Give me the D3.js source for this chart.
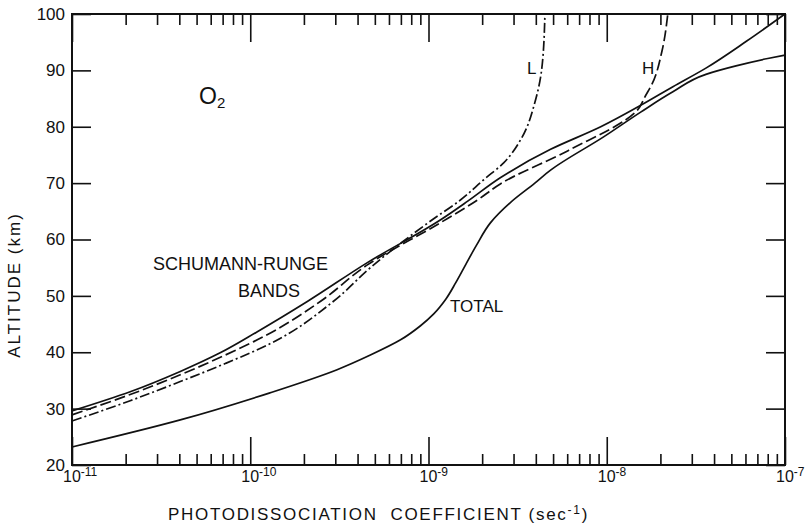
<!DOCTYPE html>
<html>
<head>
<meta charset="utf-8">
<script src="https://cdn.jsdelivr.net/npm/d3@7"></script>
<style>
    body { margin: 0; background: #fff; }
    svg text { font-family: "Liberation Sans", Arial, sans-serif; fill: #111; }
</style>
</head>
<body>
<div id="chart"></div>
<script>
// tick values
const decades = [1e-11, 1e-10, 1e-9, 1e-8, 1e-7];
const decadeExp = ["-11", "-10", "-9", "-8", "-7"];
const minorMult = [2, 3, 4, 5, 6, 7, 8, 9];
const altTicks = [20, 30, 40, 50, 60, 70, 80, 90, 100];

// Schumann-Runge bands (solid)
const srJ   = [1e-11, 2.12e-11, 4.05e-11, 6.78e-11, 1.09e-10, 2.09e-10, 4.54e-10, 1.17e-9, 1.66e-9, 2.54e-9, 4.84e-9, 9.25e-9, 1.55e-8, 2.35e-8, 3.6e-8, 6.1e-8, 1e-7];
const srAlt = [29.6, 33.0, 36.6, 39.9, 43.6, 49.0, 55.9, 63.5, 66.8, 71.0, 76.0, 80.0, 83.8, 87.1, 90.4, 95.2, 100];

// H (dashed)
const hJ   = [1e-11, 2.12e-11, 4.05e-11, 7.24e-11, 1.21e-10, 2.47e-10, 4.54e-10, 1.17e-9, 1.88e-9, 2.54e-9, 6.1e-9, 1.49e-8, 1.65e-8, 1.79e-8, 2.04e-8, 2.2e-8];
const hAlt = [28.9, 32.5, 36.0, 39.5, 42.9, 49.0, 55.5, 63.0, 67.0, 69.9, 75.8, 83.0, 85.5, 87.5, 93.4, 100];

// L (dash-dot)
const lJ   = [1e-11, 2.12e-11, 4.05e-11, 7.24e-11, 1.29e-10, 2.92e-10, 4.72e-10, 1.05e-9, 1.51e-9, 2.04e-9, 2.64e-9, 3.33e-9, 3.95e-9, 4.32e-9, 4.5e-9];
const lAlt = [27.8, 31.4, 34.8, 38.0, 41.5, 49.0, 55.0, 63.5, 67.0, 70.6, 73.6, 78.0, 84.3, 90.3, 100];

// total (solid)
const totJ   = [1e-11, 4.05e-11, 1.29e-10, 3.07e-10, 4.72e-10, 6.97e-10, 9.02e-10, 1.07e-9, 1.25e-9, 1.42e-9, 1.62e-9, 1.86e-9, 2.23e-9, 2.89e-9, 3.95e-9, 4.84e-9, 9.6e-9, 1.55e-8, 2.35e-8, 3.6e-8, 5.31e-8, 8.0e-8, 1e-7];
const totAlt = [23.2, 28.0, 32.8, 36.9, 39.5, 42.2, 44.7, 46.8, 49.4, 52.3, 55.6, 59.0, 63.0, 66.6, 70.0, 72.3, 78.2, 82.6, 86.2, 89.3, 90.8, 92.1, 92.7];

const W = 811, H = 524;
const margin = {top: 14, right: 26, bottom: 59, left: 72};
const width = W - margin.left - margin.right;
const height = H - margin.top - margin.bottom;

const svg = d3.select("#chart").append("svg")
    .attr("width", W)
    .attr("height", H);

const g = svg.append("g")
    .attr("transform", "translate(" + margin.left + "," + margin.top + ")");

// scales
const x = d3.scaleLog().domain([1e-11, 1e-7]).range([0, width]);
const y = d3.scaleLinear().domain([20, 100]).range([height, 0]);

const minorTicks = decades.slice(0, -1).flatMap(d => minorMult.map(m => m * d));

// draws an axis and styles its tick lines (ticks point inward)
function drawAxis(axis, tx, ty) {
    const a = g.append("g")
        .attr("transform", "translate(" + tx + "," + ty + ")")
        .call(axis);
    a.select(".domain").remove();
    a.selectAll(".tick line")
        .attr("stroke", "#111")
        .attr("stroke-width", 1.6);
    a.attr("font-size", null).attr("font-family", null);
    return a;
}

// bottom / top axes
drawAxis(d3.axisBottom(x).tickValues(decades).tickSize(-28).tickFormat(""), 0, height);
drawAxis(d3.axisBottom(x).tickValues(minorTicks).tickSize(-11).tickFormat(""), 0, height);
drawAxis(d3.axisTop(x).tickValues(decades).tickSize(-28).tickFormat(""), 0, 0);
drawAxis(d3.axisTop(x).tickValues(minorTicks).tickSize(-11).tickFormat(""), 0, 0);

// left / right axes
const gLeft = drawAxis(d3.axisLeft(y).tickValues(altTicks).tickSize(-19).tickPadding(7), 0, 0);
gLeft.selectAll(".tick text").style("font-size", "17px");
drawAxis(d3.axisRight(y).tickValues(altTicks).tickSize(-19).tickFormat(""), width, 0);

// x tick labels: 10 with superscript exponent
const xl = g.append("g").selectAll("text")
    .data(decades)
    .join("text")
    .attr("x", d => x(d) - 9)
    .attr("y", height + 17)
    .style("font-size", "16px");
xl.append("tspan").text("10");
xl.append("tspan")
    .attr("dy", -6)
    .style("font-size", "12px")
    .text((d, i) => decadeExp[i]);

// frame
g.append("rect")
    .attr("width", width)
    .attr("height", height)
    .attr("fill", "none")
    .attr("stroke", "#111")
    .attr("stroke-width", 2);

// curves
const line = d3.line()
    .x(d => x(d[0]))
    .y(d => y(d[1]))
    .curve(d3.curveMonotoneY);

const curves = [
    {j: srJ, alt: srAlt, dash: null},
    {j: hJ, alt: hAlt, dash: "11,4"},
    {j: lJ, alt: lAlt, dash: "10,3,2,3"},
    {j: totJ, alt: totAlt, dash: null}
];

curves.forEach(c => {
    g.append("path")
        .datum(d3.zip(c.j, c.alt))
        .attr("d", line)
        .attr("fill", "none")
        .attr("stroke", "#111")
        .attr("stroke-width", 1.7)
        .attr("stroke-dasharray", c.dash);
});

// labels
const o2 = svg.append("text").attr("x", 199).attr("y", 104).style("font-size", "23px");
o2.append("tspan").text("O");
o2.append("tspan").attr("dy", 4).style("font-size", "15px").text("2");

svg.append("text").attr("x", 527).attr("y", 74).style("font-size", "17px").text("L");
svg.append("text").attr("x", 642).attr("y", 74).style("font-size", "17px").text("H");

svg.append("text").attr("x", 153).attr("y", 270).style("font-size", "18px").text("SCHUMANN-RUNGE");
svg.append("text").attr("x", 238).attr("y", 297).style("font-size", "18px").text("BANDS");
svg.append("text").attr("x", 450).attr("y", 312).style("font-size", "17px").text("TOTAL");

// axis titles
const xt = svg.append("text")
    .attr("x", 168)
    .attr("y", 520)
    .style("font-size", "17px")
    .style("letter-spacing", "1.7px")
    .attr("xml:space", "preserve");
xt.append("tspan").text("PHOTODISSOCIATION  COEFFICIENT (sec");
xt.append("tspan").attr("dy", -6).style("font-size", "12px").text("-1");
xt.append("tspan").attr("dy", 6).text(")");

svg.append("text")
    .attr("transform", "translate(20,285) rotate(-90)")
    .attr("text-anchor", "middle")
    .style("font-size", "17px")
    .style("letter-spacing", "2px")
    .text("ALTITUDE (km)");
</script>
</body>
</html>
